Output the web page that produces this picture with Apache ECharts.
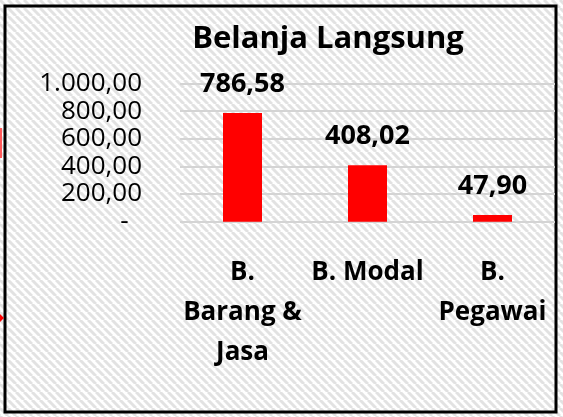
<!DOCTYPE html>
<html>
<head>
<meta charset="utf-8">
<title>Belanja Langsung</title>
<script src="https://cdn.jsdelivr.net/npm/echarts@6/dist/echarts.min.js"></script>
<style>
  html, body { margin: 0; padding: 0; background: #fff; }
  #chart { width: 563px; height: 417px; }
</style>
</head>
<body>
<div id="chart"></div>
<script>
// data
var categories = ["B. Barang & Jasa", "B. Modal", "B. Pegawai"];
var categoryLabels = ["B.\nBarang &\nJasa", "B. Modal", "B.\nPegawai"];
var values = [786.58, 408.02, 47.9];
var yTicks = [0, 200, 400, 600, 800, 1000];

// format angka gaya Indonesia: 1.000,00 ; nol jadi "-" (ala format akuntansi)
function fmtId(v) {
  if (v === 0) return "-  ";
  var parts = v.toFixed(2).split(".");
  return parts[0].replace(/\B(?=(\d{3})+(?!\d))/g, ".") + "," + parts[1];
}

// latar belakang bergaris diagonal
function hatchTile() {
  var c = document.createElement("canvas");
  c.width = 8;
  c.height = 8;
  var g = c.getContext("2d");
  g.fillStyle = "#ffffff";
  g.fillRect(0, 0, 8, 8);
  g.strokeStyle = "#e2e2e2";
  g.lineWidth = 3;
  [-8, 0, 8].forEach(function (o) {
    g.beginPath();
    g.moveTo(o, 0);
    g.lineTo(o + 8, 8);
    g.stroke();
  });
  return c;
}

var font = "'Open Sans', sans-serif";
var myChart = echarts.init(document.getElementById("chart"));

var option = {
  backgroundColor: { image: hatchTile(), repeat: "repeat" },
  animation: false,
  title: {
    text: "Belanja Langsung",
    left: 323,
    top: 19,
    textAlign: "center",
    textStyle: { fontFamily: font, fontSize: 31, fontWeight: "bold", color: "#000" },
  },
  grid: { left: 180, right: 8, top: 83.5, bottom: 195.3, containLabel: false },
  xAxis: {
    type: "category",
    data: categories,
    axisLine: { show: false },
    axisTick: { show: false },
    axisLabel: {
      interval: 0,
      margin: 31,
      verticalAlign: "top",
      lineHeight: 40,
      fontFamily: font,
      fontSize: 26,
      fontWeight: "bold",
      color: "#000",
      formatter: function (v, i) {
        return categoryLabels[i];
      },
    },
  },
  yAxis: {
    type: "value",
    min: yTicks[0],
    max: yTicks[yTicks.length - 1],
    interval: 200,
    axisLine: { show: false },
    axisTick: { show: false },
    splitLine: { lineStyle: { color: "#d4d4d4", width: 2 } },
    axisLabel: {
      margin: 38,
      fontFamily: font,
      fontSize: 26,
      color: "#000",
      formatter: fmtId,
    },
  },
  series: [
    {
      type: "bar",
      data: values,
      barWidth: 39,
      itemStyle: { color: "#ff0000" },
      label: {
        show: true,
        position: "top",
        distance: 15,
        fontFamily: font,
        fontSize: 27,
        fontWeight: "bold",
        color: "#000",
        formatter: function (p) {
          return fmtId(p.value);
        },
      },
    },
  ],
  graphic: [
    {
      type: "rect",
      shape: { x: 5, y: 6, width: 551, height: 406 },
      style: { fill: "none", stroke: "#000", lineWidth: 3 },
      silent: true,
    },
    // potongan merah kecil di tepi kiri
    {
      type: "rect",
      shape: { x: 0, y: 128, width: 2, height: 30 },
      style: { fill: "#ff5a5a" },
      silent: true,
    },
    {
      type: "polygon",
      shape: { points: [[0, 314], [4, 318], [0, 322]] },
      style: { fill: "#ff0000" },
      silent: true,
    },
  ],
};

myChart.setOption(option);
</script>
</body>
</html>
